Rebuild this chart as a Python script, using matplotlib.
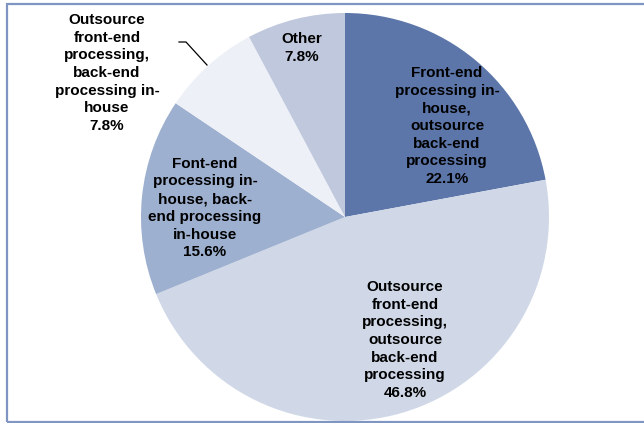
#!/usr/bin/env python3
"""Pie chart of processing outsourcing arrangements."""
import matplotlib

matplotlib.use("Agg")
import matplotlib.pyplot as plt
from matplotlib.patches import Rectangle

plt.rcParams["font.family"] = ["Liberation Sans", "DejaVu Sans"]

CATEGORIES = [
    "Front-end\nprocessing in-\nhouse,\noutsource\nback-end\nprocessing",
    "Outsource\nfront-end\nprocessing,\noutsource\nback-end\nprocessing",
    "Font-end\nprocessing in-\nhouse, back-\nend processing\nin-house",
    "Outsource\nfront-end\nprocessing,\nback-end\nprocessing in-\nhouse",
    "Other",
]
SHARES = [22.1, 46.8, 15.6, 7.8, 7.8]
COLORS = ["#5c76aa", "#d0d8e7", "#9eb0d0", "#eef0f7", "#bfc8dc"]

# label anchor points in pixel space (x right, y up)
LABEL_XY = [(447, 297), (405, 83), (205, 215), (107, 350), (302, 375)]

W, H = 644, 423
CENTER = (345, 206)
RADIUS = 204


def main() -> None:
    fig = plt.figure(figsize=(W / 100, H / 100), dpi=100)
    ax = fig.add_axes([0, 0, 1, 1])
    ax.axis("off")

    ax.pie(
        SHARES,
        colors=COLORS,
        startangle=90,
        counterclock=False,
        center=CENTER,
        radius=RADIUS,
        wedgeprops={"linewidth": 0},
        normalize=True,
    )
    ax.set_xlim(0, W)
    ax.set_ylim(0, H)
    ax.set_aspect("equal")

    for name, share, (x, y) in zip(CATEGORIES, SHARES, LABEL_XY):
        ax.text(
            x,
            y,
            f"{name}\n{share:.1f}%",
            ha="center",
            va="center",
            fontsize=11,
            fontweight="bold",
            linespacing=1.34,
            color="black",
        )

    # leader line for the small outsourced slice
    ax.plot([179, 186, 207], [381, 381, 358], color="black", linewidth=0.9)

    ax.add_patch(
        Rectangle(
            (7.5, 1.5),
            W,
            H - 5,
            fill=False,
            edgecolor="#7f96c2",
            linewidth=1.6,
            clip_on=False,
        )
    )

    fig.savefig("out.png", dpi=100)
    plt.close(fig)


if __name__ == "__main__":
    main()
